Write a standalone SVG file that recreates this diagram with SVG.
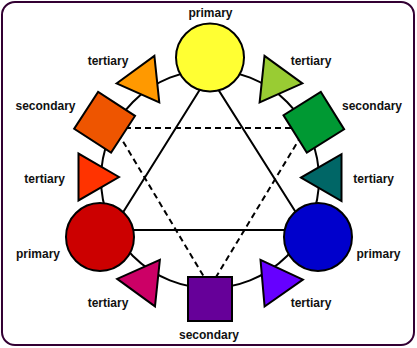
<svg xmlns="http://www.w3.org/2000/svg" width="417" height="348" viewBox="0 0 417 348">
<style>
.frame{fill:#fff;stroke:#330033;stroke-width:2}
.ring{fill:none;stroke:#000;stroke-width:2}
.solid{fill:none;stroke:#000;stroke-width:2}
.dash{fill:none;stroke:#000;stroke-width:2;stroke-dasharray:6 4}
.node{stroke:#000;stroke-width:2}
.lbl{font-family:"Liberation Sans",Arial,sans-serif;font-weight:bold;font-size:12px;fill:#111;text-anchor:middle}
</style>
<defs>
<polygon id="tri" points="27,0 -13.5,-23.4 -13.5,23.4"/>
</defs>
<rect class="frame" x="2" y="2" width="412" height="343" rx="13" ry="13"/>
<g id="connectors">
<circle class="ring" cx="210" cy="179" r="109"/>
<polygon class="solid" points="209,75 112,230 307,230"/>
<polygon class="dash" points="115,128 306,128 210,287"/>
</g>
<g id="primary-yellow"><circle class="node" cx="210" cy="57.5" r="34" fill="#FFFF33"/><text class="lbl" x="210.5" y="17">primary</text></g>
<g id="primary-red"><circle class="node" cx="100" cy="237" r="34" fill="#CC0000"/><text class="lbl" x="38" y="257.5">primary</text></g>
<g id="primary-blue"><circle class="node" cx="318" cy="237" r="34" fill="#0000CC"/><text class="lbl" x="378.5" y="257.5">primary</text></g>
<g id="secondary-orange"><rect class="node" x="-22" y="-22" width="44" height="44" fill="#EE5500" transform="translate(104.6,122.3) rotate(33)"/><text class="lbl" x="45.5" y="109.5">secondary</text></g>
<g id="secondary-green"><rect class="node" x="-22" y="-22" width="44" height="44" fill="#009933" transform="translate(313.8,122.3) rotate(-32)"/><text class="lbl" x="372" y="109.5">secondary</text></g>
<g id="secondary-purple"><rect class="node" x="188" y="277" width="44" height="44" fill="#660099"/><text class="lbl" x="209" y="338.5">secondary</text></g>
<g id="tertiary-orange"><use href="#tri" class="node" fill="#FF9900" transform="translate(143.4,80.6) rotate(174)"/><text class="lbl" x="108" y="64.5">tertiary</text></g>
<g id="tertiary-yellowgreen"><use href="#tri" class="node" fill="#99CC33" transform="translate(275.5,80.5) rotate(6)"/><text class="lbl" x="311" y="64.5">tertiary</text></g>
<g id="tertiary-redorange"><use href="#tri" class="node" fill="#FF3300" transform="translate(92,177) rotate(0)"/><text class="lbl" x="44.7" y="182.5">tertiary</text></g>
<g id="tertiary-teal"><use href="#tri" class="node" fill="#006666" transform="translate(328,177.6) rotate(180)"/><text class="lbl" x="373.7" y="182.5">tertiary</text></g>
<g id="tertiary-magenta"><use href="#tri" class="node" fill="#CC0066" transform="translate(144,281.7) rotate(186)"/><text class="lbl" x="108" y="306.5">tertiary</text></g>
<g id="tertiary-violet"><use href="#tri" class="node" fill="#6600FF" transform="translate(276,282) rotate(-5)"/><text class="lbl" x="311" y="306.5">tertiary</text></g>
</svg>
